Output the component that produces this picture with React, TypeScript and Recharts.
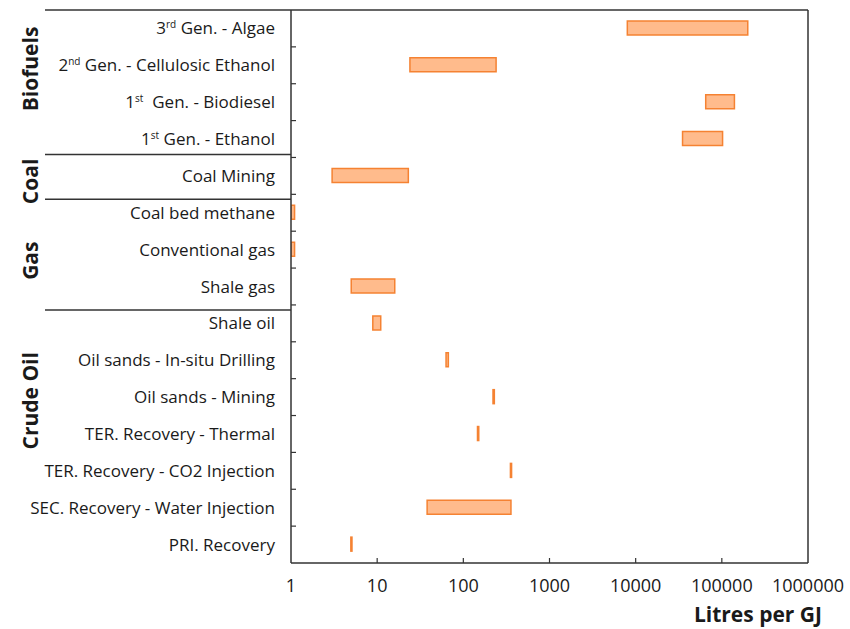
import React from 'react';
import { BarChart, Bar, XAxis, YAxis, Customized } from 'recharts';

// Water use ranges, litres per GJ (log scale)
const categories = [
  '3rd Gen. - Algae',
  '2nd Gen. - Cellulosic Ethanol',
  '1st  Gen. - Biodiesel',
  '1st Gen. - Ethanol',
  'Coal Mining',
  'Coal bed methane',
  'Conventional gas',
  'Shale gas',
  'Shale oil',
  'Oil sands - In-situ Drilling',
  'Oil sands - Mining',
  'TER. Recovery - Thermal',
  'TER. Recovery - CO2 Injection',
  'SEC. Recovery - Water Injection',
  'PRI. Recovery',
];
const lowValues = [8000, 24, 65000, 35000, 3, 1, 1, 5, 8.9, 63, 221, 146, 352, 38, 4.95];
const highValues = [200000, 240, 140000, 102000, 23, 1.1, 1.1, 16, 11, 67, 229, 151, 363, 357, 5.1];
const xTicks = [1, 10, 100, 1000, 10000, 100000, 1000000];

// groups: name, first row, last row
const groupNames = ['Biofuels', 'Coal', 'Gas', 'Crude Oil'];
const groupFirstRow = [0, 4, 5, 8];
const groupLastRow = [3, 4, 7, 14];

const data = categories.map((name, i) => ({ name, range: [lowValues[i], highValues[i]] }));

const W = 850;
const H = 629;
const MARGIN = { top: 10, right: 42, bottom: 36, left: 0 };
const Y_AXIS_W = 291;
const X_AXIS_H = 30;
const PLOT_LEFT = MARGIN.left + Y_AXIS_W;
const PLOT_RIGHT = W - MARGIN.right;
const PLOT_TOP = MARGIN.top;
const PLOT_BOTTOM = H - MARGIN.bottom - X_AXIS_H;
const BAND = (PLOT_BOTTOM - PLOT_TOP) / categories.length;

const FONT = '"Open Sans", Lato, sans-serif';
const TEXT = '#1a1a1a';
const LINE = '#333';

// label offsets (in rows) for the rotated group titles and separator nudges (px)
const groupLabelShift = [-0.4, 0.15, 0.3, -0.9];
const separatorNudge = [-3, 5, 5];

const fmt = (v: number) => String(v);

const CategoryTick = (props: any) => {
  const { x, y, payload, index } = props;
  const m = /^(\d)(st|nd|rd|th)(\s+)(.*)$/.exec(payload.value);
  return (
    <g>
      {index > 0 && (
        <line x1={PLOT_LEFT} x2={PLOT_LEFT + 5} y1={y - BAND / 2} y2={y - BAND / 2} stroke={LINE} strokeWidth={1.2} />
      )}
      <text x={x} y={y + 6} textAnchor="end" fontFamily={FONT} fontSize={17} fill={TEXT} xmlSpace="preserve">
        {m ? (
          <>
            <tspan>{m[1]}</tspan>
            <tspan dy={-6} fontSize={10}>{m[2]}</tspan>
            <tspan dy={6}>{m[3] + m[4]}</tspan>
          </>
        ) : (
          payload.value
        )}
      </text>
    </g>
  );
};

const ValueTick = (props: any) => {
  const { x, payload } = props;
  return (
    <g>
      {payload.value > 1 && payload.value < 1000000 && (
        <line x1={x} x2={x} y1={PLOT_BOTTOM - 5} y2={PLOT_BOTTOM} stroke={LINE} strokeWidth={1.2} />
      )}
      <text x={x} y={PLOT_BOTTOM + 29} textAnchor="middle" fontFamily={FONT} fontSize={18} fill={TEXT}>
        {fmt(payload.value)}
      </text>
    </g>
  );
};

const Frame = () => {
  const seps = groupFirstRow.slice(1).map((r, i) => PLOT_TOP + r * BAND + separatorNudge[i]);
  return (
    <g>
      <line x1={45} x2={PLOT_RIGHT} y1={PLOT_TOP} y2={PLOT_TOP} stroke={LINE} strokeWidth={1.5} />
      <line x1={PLOT_RIGHT} x2={PLOT_RIGHT} y1={PLOT_TOP} y2={PLOT_BOTTOM} stroke={LINE} strokeWidth={1.5} />
      {seps.map((y, i) => (
        <line key={i} x1={45} x2={PLOT_LEFT} y1={y} y2={y} stroke={LINE} strokeWidth={1.5} />
      ))}
      {groupNames.map((g, i) => {
        const cy = PLOT_TOP + ((groupFirstRow[i] + groupLastRow[i] + 1) / 2 + groupLabelShift[i]) * BAND;
        return (
          <text
            key={g}
            x={30}
            y={cy}
            transform={`rotate(-90, 30, ${cy})`}
            textAnchor="middle"
            dominantBaseline="central"
            fontFamily={FONT}
            fontWeight="bold"
            fontSize={21}
            fill={TEXT}
          >
            {g}
          </text>
        );
      })}
      <text x={822} y={622} textAnchor="end" fontFamily={FONT} fontWeight="bold" fontSize={21} fill={TEXT}>
        Litres per GJ
      </text>
    </g>
  );
};

export default function App() {
  return (
    <div style={{ position: 'absolute', left: 0, top: 0, background: '#fff' }}>
      <BarChart width={W} height={H} data={data} layout="vertical" margin={MARGIN}>
        <XAxis
          type="number"
          dataKey="range"
          scale="log"
          domain={[1, 1000000]}
          ticks={xTicks}
          allowDataOverflow
          height={X_AXIS_H}
          axisLine={{ stroke: LINE, strokeWidth: 1.5 }}
          tickLine={false}
          tickSize={0}
          tick={<ValueTick />}
          interval={0}
        />
        <YAxis
          type="category"
          dataKey="name"
          width={Y_AXIS_W}
          axisLine={{ stroke: LINE, strokeWidth: 1.5 }}
          tickLine={false}
          tickSize={0}
          tickMargin={16}
          tick={<CategoryTick />}
          interval={0}
        />
        <Bar
          dataKey="range"
          barSize={14}
          fill="#FFBB8C"
          stroke="#F58232"
          strokeWidth={1.5}
          isAnimationActive={false}
        />
        <Customized component={Frame} />
      </BarChart>
    </div>
  );
}
